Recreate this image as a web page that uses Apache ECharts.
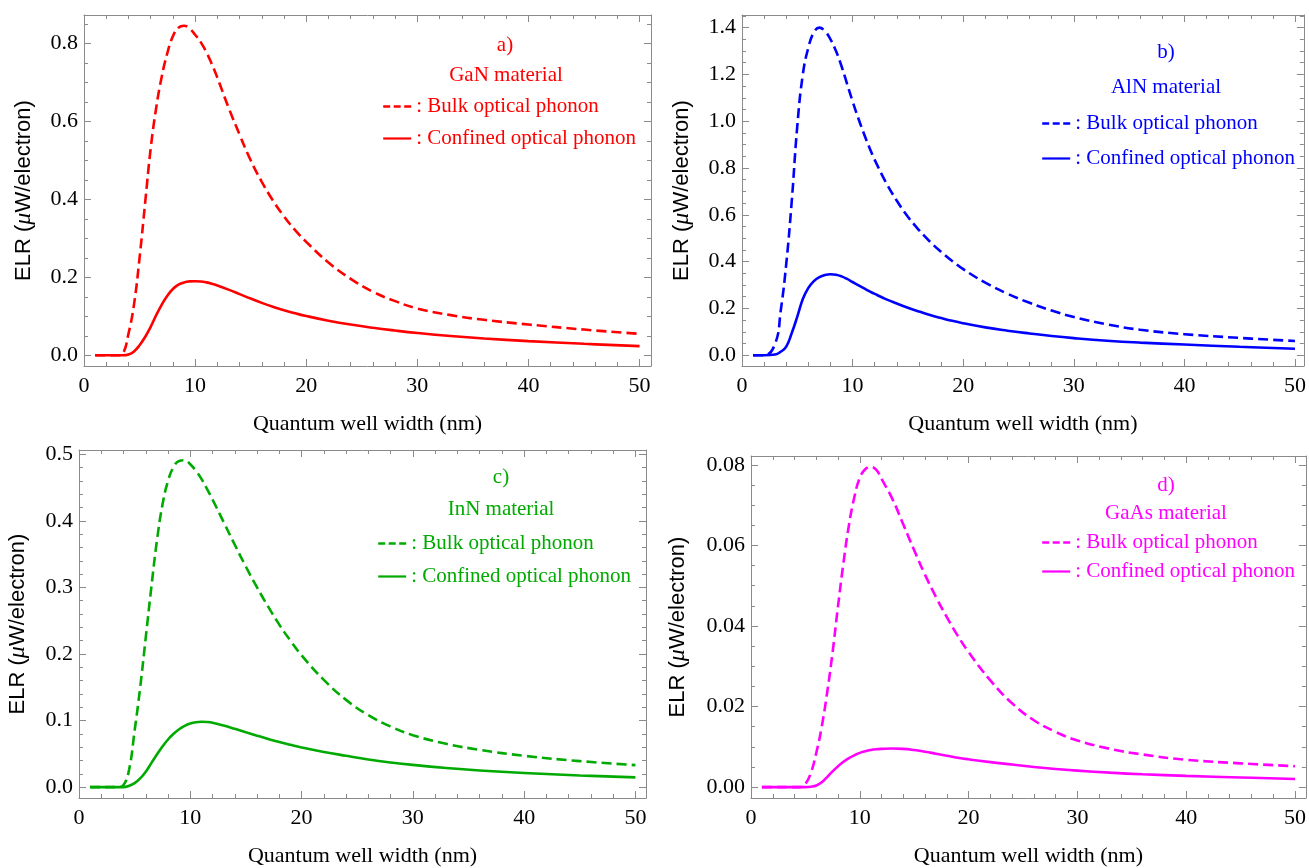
<!DOCTYPE html>
<html>
<head>
<meta charset="utf-8">
<script src="https://cdn.jsdelivr.net/npm/echarts@6/dist/echarts.min.js"></script>
<style>
html,body{margin:0;padding:0;background:#ffffff;}
#chart{width:1309px;height:868px;}
</style>
</head>
<body>
<div id="chart"></div>
<script>
// ---------- DATA ----------
// Quantum well width (nm)
const widths = [1,2,3,3.5,4,4.5,5,5.5,6,6.5,7,7.5,8,8.5,9,9.5,10,10.5,11,11.5,12,13,14,15,16,17,18,19,20,22,24,26,28,30,33,36,40,45,50];

// a) GaN
const ganBulk = [0,0,0,0.005,0.055,0.13,0.25,0.39,0.53,0.635,0.715,0.775,0.818,0.84,0.845,0.838,0.822,0.803,0.778,0.747,0.712,0.636,0.566,0.5,0.445,0.397,0.356,0.321,0.291,0.238,0.196,0.163,0.139,0.12,0.103,0.091,0.079,0.066,0.055];
const ganConf = [0,0,0,0,0.002,0.01,0.026,0.047,0.073,0.103,0.13,0.153,0.17,0.181,0.187,0.1895,0.19,0.1893,0.187,0.1835,0.179,0.1685,0.157,0.1455,0.1345,0.1245,0.1155,0.1078,0.1008,0.0888,0.0788,0.0705,0.0635,0.0573,0.0495,0.0432,0.0365,0.0295,0.0235];

// b) AlN
const alnBulk = [0,0,0.05,0.19,0.39,0.66,0.98,1.2,1.315,1.38,1.4,1.385,1.35,1.3,1.235,1.16,1.085,1.015,0.95,0.89,0.835,0.74,0.66,0.592,0.535,0.485,0.442,0.403,0.368,0.31,0.263,0.224,0.191,0.163,0.132,0.109,0.09,0.074,0.061];
const alnConf = [0,0,0.003,0.015,0.037,0.095,0.165,0.24,0.288,0.317,0.334,0.343,0.346,0.344,0.337,0.326,0.313,0.3,0.287,0.274,0.262,0.24,0.221,0.203,0.187,0.172,0.159,0.147,0.137,0.119,0.105,0.093,0.082,0.073,0.062,0.054,0.046,0.036,0.028];

// c) InN
const innBulk = [0,0,0,0,0.003,0.026,0.085,0.15,0.225,0.3,0.37,0.424,0.46,0.481,0.49,0.491,0.485,0.475,0.463,0.448,0.432,0.398,0.364,0.331,0.3,0.271,0.244,0.22,0.198,0.161,0.131,0.108,0.091,0.078,0.065,0.056,0.047,0.039,0.033];
const innConf = [0,0,0,0,0,0.002,0.006,0.013,0.023,0.036,0.049,0.061,0.0715,0.08,0.0868,0.092,0.0955,0.0975,0.0982,0.0978,0.0966,0.0925,0.0875,0.0823,0.0772,0.0723,0.0677,0.0635,0.0596,0.0528,0.047,0.0415,0.037,0.0333,0.0287,0.025,0.0212,0.0175,0.0146];

// d) GaAs
const gaasBulk = [0,0,0,0,0,0,0.0008,0.0035,0.0085,0.015,0.0235,0.0335,0.045,0.0557,0.065,0.072,0.0768,0.0789,0.0795,0.0788,0.0765,0.0715,0.0652,0.0588,0.0527,0.0472,0.0422,0.0376,0.0335,0.0265,0.0208,0.0166,0.0137,0.0116,0.0095,0.0081,0.0068,0.0059,0.0052];
const gaasConf = [0,0,0,0,0,0,0,0.0001,0.0004,0.0012,0.0025,0.0039,0.0052,0.0063,0.0072,0.0079,0.0085,0.0089,0.0092,0.0094,0.0095,0.0096,0.0095,0.0092,0.0088,0.0083,0.0078,0.0073,0.0069,0.0062,0.0056,0.005,0.0045,0.0041,0.0036,0.0032,0.0028,0.0024,0.002];

// Text
const panelTags = ['a)','b)','c)','d)'];
const materials = ['GaN material','AlN material','InN material','GaAs material'];
const legendLabels = [': Bulk optical phonon', ': Confined optical phonon'];
const xTickStep = 10;
const yTickSteps = [0.2, 0.2, 0.1, 0.02];
const yTickDecimals = [1, 1, 1, 2];
const xTitle = 'Quantum well width (nm)';

// ---------- LAYOUT / STYLE ----------
const panels = [
  {color:'#ff0000', bulk:ganBulk, conf:ganConf, key:'GaN',
   grid:{left:84, top:15, width:567, height:351}, xr:[0,51.03], yr:[-0.0274,0.8726], ySplit:4, yGap:48,
   tag:[505,45], mat:[506,75], leg:{left:382, top:96, gap:11}},
  {color:'#0000ff', bulk:alnBulk, conf:alnConf, key:'AlN',
   grid:{left:742, top:15, width:566, height:351}, xr:[0,50.8], yr:[-0.046,1.454], ySplit:4, yGap:48,
   tag:[1166,52], mat:[1166,87], leg:{left:1041, top:113, gap:14}},
  {color:'#00aa00', bulk:innBulk, conf:innConf, key:'InN',
   grid:{left:79, top:450, width:567, height:350}, xr:[0,50.95], yr:[-0.0164,0.5064], ySplit:5, yGap:49,
   tag:[501,477], mat:[501,509], leg:{left:377, top:533, gap:12}},
  {color:'#ff00ff', bulk:gaasBulk, conf:gaasConf, key:'GaAs',
   grid:{left:751, top:456, width:557, height:344}, xr:[0,51], yr:[-0.0027,0.0822], ySplit:4, yGap:61,
   tag:[1166,485], mat:[1166,513], leg:{left:1041, top:532, gap:8}}
];

const FRAME = '#8a8a8a';
const SERIF = '"Liberation Serif","Times New Roman",serif';
const SANS = '"Liberation Sans",Arial,sans-serif';

function isMult(v, step){ const r = v/step; return Math.abs(r - Math.round(r)) < 1e-6; }

const grids = [], xAxes = [], yAxes = [], series = [], legends = [], graphics = [];

panels.forEach((p, i) => {
  grids.push(Object.assign({show:false, containLabel:false}, p.grid));
  const common = {
    axisLine:{show:true, onZero:false, lineStyle:{color:FRAME, width:1}},
    axisTick:{show:true, inside:true, length:7, lineStyle:{color:FRAME, width:1}},
    minorTick:{show:true, length:4, lineStyle:{color:FRAME, width:1}},
    splitLine:{show:false}
  };
  const xBase = {type:'value', gridIndex:i, min:p.xr[0], max:p.xr[1], minInterval:xTickStep, maxInterval:xTickStep};
  xAxes.push(Object.assign({}, xBase, common, {
    position:'bottom',
    minorTick:Object.assign({}, common.minorTick, {splitNumber:5}),
    axisLabel:{show:true, margin:9, color:'#000', fontFamily:SERIF, fontSize:22,
      formatter: v => isMult(v, xTickStep) ? String(Math.round(v)) : ''},
    name:xTitle, nameLocation:'middle', nameGap:47,
    nameTextStyle:{color:'#000', fontFamily:SERIF, fontSize:22}
  }));
  xAxes.push(Object.assign({}, xBase, common, {
    position:'top',
    minorTick:Object.assign({}, common.minorTick, {splitNumber:5}),
    axisLabel:{show:false}
  }));
  const st = yTickSteps[i], dec = yTickDecimals[i];
  const yBase = {type:'value', gridIndex:i, min:p.yr[0], max:p.yr[1], minInterval:st, maxInterval:st};
  yAxes.push(Object.assign({}, yBase, common, {
    position:'left',
    minorTick:Object.assign({}, common.minorTick, {splitNumber:p.ySplit}),
    axisLabel:{show:true, margin:6, color:'#000', fontFamily:SERIF, fontSize:22,
      formatter: v => isMult(v, st) ? v.toFixed(dec) : ''},
    name:'{s|ELR (}{m|μ}{s|W/electron)}', nameLocation:'middle', nameRotate:90, nameGap:p.yGap,
    nameTextStyle:{rich:{
      s:{fontFamily:SANS, fontSize:22, color:'#000'},
      m:{fontFamily:SERIF, fontStyle:'italic', fontSize:24, color:'#000'}
    }}
  }));
  yAxes.push(Object.assign({}, yBase, common, {
    position:'right',
    minorTick:Object.assign({}, common.minorTick, {splitNumber:p.ySplit}),
    axisLabel:{show:false}
  }));

  const bName = p.key + ' bulk', cName = p.key + ' confined';
  series.push({
    name:bName, type:'line', xAxisIndex:2*i, yAxisIndex:2*i, symbol:'none',
    smooth:0.45,
    data: widths.map((w, k) => [w, p.bulk[k]]),
    lineStyle:{color:p.color, width:2.6, type:[10,5]}, itemStyle:{color:p.color}
  });
  series.push({
    name:cName, type:'line', xAxisIndex:2*i, yAxisIndex:2*i, symbol:'none',
    smooth:0.45,
    data: widths.map((w, k) => [w, p.conf[k]]),
    lineStyle:{color:p.color, width:2.6, type:'solid'}, itemStyle:{color:p.color}
  });
  legends.push({
    orient:'vertical', left:p.leg.left, top:p.leg.top, itemGap:p.leg.gap,
    itemWidth:28, itemHeight:14, padding:0, selectedMode:false,
    itemStyle:{opacity:0, color:'rgba(0,0,0,0)', borderColor:'rgba(0,0,0,0)', borderWidth:0},
    data:[{name:bName, lineStyle:{type:[7,3.5], width:2.4}}, {name:cName, lineStyle:{width:2.2}}],
    formatter: n => n === bName ? legendLabels[0] : legendLabels[1],
    textStyle:{color:p.color, fontFamily:SERIF, fontSize:21, lineHeight:20}
  });
  graphics.push({type:'text', x:p.tag[0], y:p.tag[1],
    style:{text:panelTags[i], fill:p.color, font:'21px ' + SERIF, align:'center', verticalAlign:'middle'}});
  graphics.push({type:'text', x:p.mat[0], y:p.mat[1],
    style:{text:materials[i], fill:p.color, font:'21px ' + SERIF, align:'center', verticalAlign:'middle'}});
});

const chart = echarts.init(document.getElementById('chart'), null, {renderer:'canvas'});
chart.setOption({
  animation:false,
  backgroundColor:'#ffffff',
  grid:grids, xAxis:xAxes, yAxis:yAxes, series:series, legend:legends,
  graphic:graphics
});
</script>
</body>
</html>
